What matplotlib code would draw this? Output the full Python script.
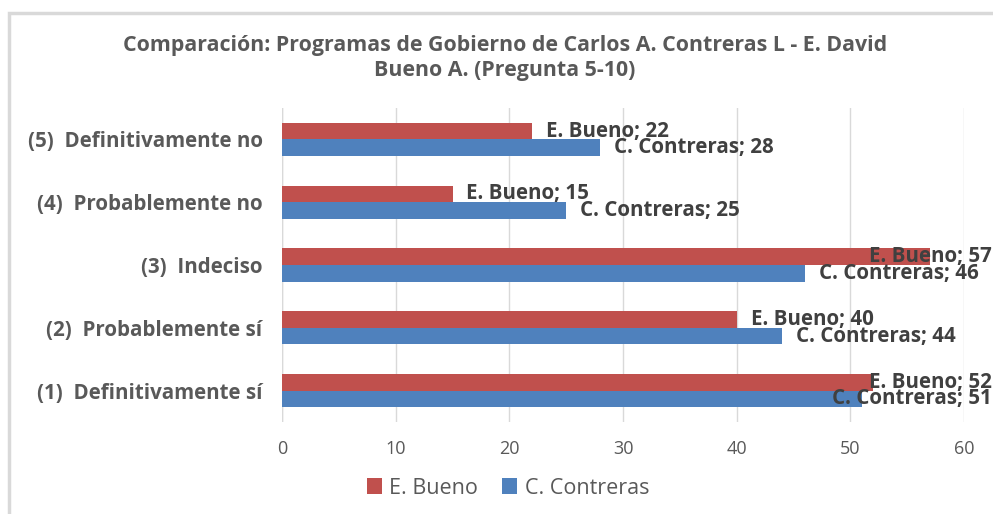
import matplotlib
matplotlib.use("Agg")
import matplotlib.pyplot as plt
from matplotlib.patches import Rectangle
import numpy as np

categories = ["(1)  Definitivamente sí", "(2)  Probablemente sí", "(3)  Indeciso",
              "(4)  Probablemente no", "(5)  Definitivamente no"]
bueno = [52, 40, 57, 15, 22]
contreras = [51, 44, 46, 25, 28]
series_names = ["E. Bueno", "C. Contreras"]
xticks = [0, 10, 20, 30, 40, 50, 60]
title = "Comparación: Programas de Gobierno de Carlos A. Contreras L - E. David\nBueno A. (Pregunta 5-10)"

RED = "#C0504D"
BLUE = "#4F81BD"
FONT = ["Open Sans", "DejaVu Sans"]
plt.rcParams['font.family'] = FONT

W, H = 993, 514
fig = plt.figure(figsize=(W / 100, H / 100), dpi=100)
fig.patches.append(Rectangle((9 / W, -0.1), 1.2, 1.1 - 13 / H, transform=fig.transFigure,
                             fill=False, edgecolor="#D9D9D9", linewidth=2.5))

ax = fig.add_axes([282 / W, (H - 422) / H, 682 / W, 314 / H])
y = np.arange(len(categories))
h = 0.263
ax.barh(y + h / 2, bueno, height=h, color=RED, label=series_names[0])
ax.barh(y - h / 2, contreras, height=h, color=BLUE, label=series_names[1])

ax.set_xlim(0, 60)
ax.set_ylim(-0.5, len(categories) - 0.5)
ax.set_xticks(xticks)
ax.set_xticklabels([str(t) for t in xticks], color="#595959", fontsize=13)
ax.set_yticks(y)
ax.set_yticklabels(categories, color="#595959", fontsize=14.8, fontweight="bold")
ax.tick_params(axis="both", length=0)
ax.tick_params(axis="x", pad=13)
ax.tick_params(axis="y", pad=14)
ax.grid(axis="x", color="#D9D9D9", linewidth=1)
ax.set_axisbelow(True)
for s in ax.spines.values():
    s.set_visible(False)
ax.axvline(0, color="#D9D9D9", linewidth=1, zorder=0.5)

fig.text(505 / W, 1 - 58 / H, title, ha="center", va="center", fontsize=15.4,
         fontweight="bold", color="#595959", linespacing=1.28)

fig.canvas.draw()
renderer = fig.canvas.get_renderer()
maxx = 992
for vals, off, name in [(bueno, h / 2, series_names[0]), (contreras, -h / 2, series_names[1])]:
    for yi, v in zip(y, vals):
        px, py = ax.transData.transform((v, yi + off))
        t = fig.text(0, 0, f"{name}; {v}", fontsize=14.8, fontweight="bold", color="#404040",
                     ha="left", va="center")
        w = t.get_window_extent(renderer).width
        x0 = px + 14
        if x0 + w > maxx:
            x0 = maxx - w
        t.set_position((x0 / W, py / H))

handles, labels = ax.get_legend_handles_labels()
fig.legend(handles, labels, loc="center", bbox_to_anchor=(508 / W, 1 - 488 / H), ncol=2,
           frameon=False, fontsize=15.5, labelcolor="#595959", handlelength=0.7,
           handleheight=0.7, handletextpad=0.35, columnspacing=1.1)

fig.savefig("out.png", dpi=100, facecolor="white")
